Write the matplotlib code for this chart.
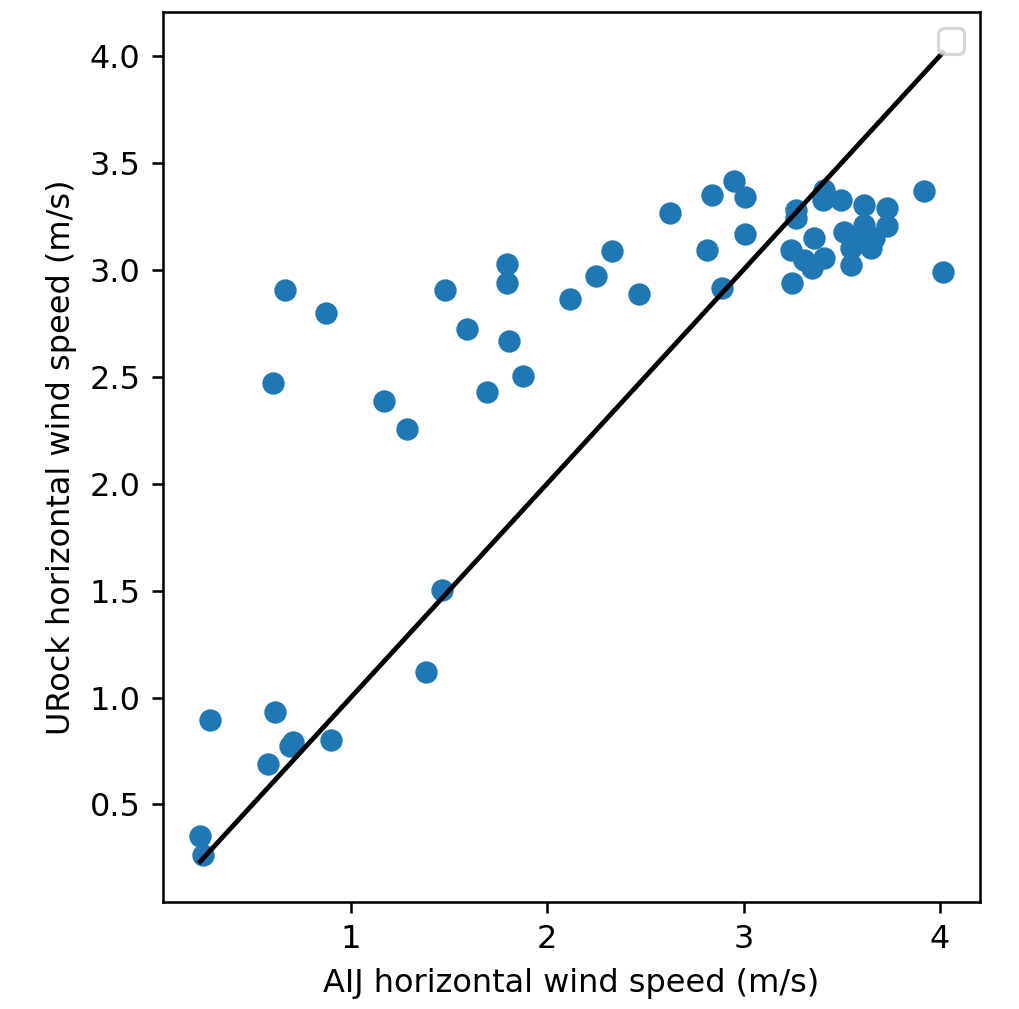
import matplotlib
matplotlib.use('Agg')
import matplotlib.pyplot as plt
from matplotlib.ticker import MultipleLocator
import numpy as np

# AIJ vs URock horizontal wind speed (m/s)
aij_speed = [
    0.663, 0.602, 0.872, 1.168, 1.286, 1.480, 1.592, 1.694, 1.796, 1.796,
    1.806, 1.878, 2.117, 2.250, 2.332, 2.469, 2.628, 2.816, 2.842, 2.949,
    3.005, 2.888, 3.005, 1.464, 1.383,
    0.284, 0.612, 0.690, 0.705, 0.580, 0.900, 0.233, 0.246,
    3.920, 4.015,
    3.410, 3.407, 3.495, 3.611, 3.730, 3.265, 3.265, 3.359, 3.240, 3.308,
    3.410, 3.350, 3.512, 3.614, 3.733, 3.546, 3.648, 3.663, 3.546, 3.587,
    3.248,
]
urock_speed = [
    2.904, 2.469, 2.796, 2.385, 2.254, 2.904, 2.721, 2.427, 3.025, 2.936,
    2.665, 2.502, 2.862, 2.969, 3.086, 2.885, 3.264, 3.090, 3.347, 3.413,
    3.338, 2.913, 3.165, 1.502, 1.119,
    0.897, 0.930, 0.775, 0.790, 0.690, 0.800, 0.352, 0.266,
    3.369, 2.989,
    3.374, 3.327, 3.327, 3.304, 3.288, 3.280, 3.241, 3.148, 3.093, 3.047,
    3.054, 3.007, 3.178, 3.210, 3.202, 3.101, 3.101, 3.146, 3.023, 3.133,
    2.937,
]

x = np.array(aij_speed)
y = np.array(urock_speed)

dpi = 230
fig = plt.figure(figsize=(1019 / dpi, 1009 / dpi), dpi=dpi)
ax = fig.add_subplot(111)
fig.subplots_adjust(left=0.16, right=0.9617, top=0.988, bottom=0.106)

ax.scatter(x, y)
ax.plot([x.min(), x.max()], [x.min(), x.max()], color='black')
ax.xaxis.set_major_locator(MultipleLocator(1))
ax.set_xlabel('AIJ horizontal wind speed (m/s)')
ax.set_ylabel('URock horizontal wind speed (m/s)')
ax.legend(loc='upper right')

fig.savefig('out.png', dpi=dpi)
